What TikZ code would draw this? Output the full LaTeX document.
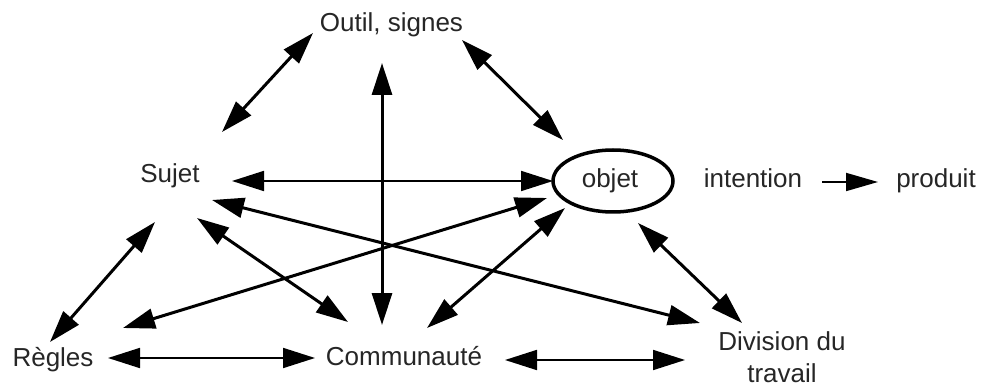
\documentclass[tikz,border=0pt]{standalone}
\usepackage{fontspec}
\setmainfont{Liberation Sans}
\usetikzlibrary{arrows.meta,shapes.geometric}
\begin{document}
\begin{tikzpicture}[x=1pt,y=-1pt,
  lbl/.style={anchor=base,inner sep=0pt,font=\fontsize{26}{30}\selectfont,text=black!85},
  link/.style={line width=3pt,{Triangle[length=32pt,width=20pt]}-{Triangle[length=32pt,width=20pt]}},
  thinlink/.style={line width=1.8pt,{Triangle[length=32pt,width=20pt]}-{Triangle[length=32pt,width=20pt]}},
  oneway/.style={line width=1.8pt,-{Triangle[length=32pt,width=18pt]}}]
\useasboundingbox (0,0) rectangle (982,387);
\fill[white] (0,0) rectangle (982,387);
% labels
\node[lbl] (outil) at (391.5,32) {Outil, signes};
\node[lbl] (sujet) at (170,183) {Sujet};
\node[draw,ellipse,line width=3.5pt,minimum width=120pt,minimum height=62pt,inner sep=0pt] (objring) at (613,181) {};
\node[lbl] (objet) at (610,188) {objet};
\node[lbl] (intention) at (753,188) {intention};
\node[lbl] (produit) at (936,188) {produit};
\node[lbl] (regles) at (53,366) {Règles};
\node[lbl] (commu) at (404,365) {Communauté};
\node[lbl] (divi) at (782,350) {Division du};
\node[lbl] (trav) at (782,382) {travail};
% arrow ends
\coordinate (os1) at (313,33);  \coordinate (os2) at (222,132);
\coordinate (oc1) at (382,63);  \coordinate (oc2) at (382,325);
\coordinate (oo1) at (462,40);  \coordinate (oo2) at (563,140);
\coordinate (so1) at (232,181); \coordinate (so2) at (553,181);
\coordinate (sd1) at (212,200); \coordinate (sd2) at (700,323);
\coordinate (sc1) at (197,218); \coordinate (sc2) at (348,322);
\coordinate (rs1) at (155,222); \coordinate (rs2) at (50,342);
\coordinate (or1) at (547,198); \coordinate (or2) at (123,328);
\coordinate (co1) at (565,208); \coordinate (co2) at (427,328);
\coordinate (od1) at (638,223); \coordinate (od2) at (742,323);
\coordinate (rc1) at (108,358); \coordinate (rc2) at (315,358);
\coordinate (cd1) at (505,360); \coordinate (cd2) at (685,360);
\coordinate (ip1) at (822,182); \coordinate (ip2) at (878,182);
% connectors
\draw[link] (os1) -- (os2);
\draw[link] (oc1) -- (oc2);
\draw[link] (oo1) -- (oo2);
\draw[thinlink] (so1) -- (so2);
\draw[link] (sd1) -- (sd2);
\draw[link] (sc1) -- (sc2);
\draw[link] (rs1) -- (rs2);
\draw[link] (or1) -- (or2);
\draw[link] (co1) -- (co2);
\draw[link] (od1) -- (od2);
\draw[thinlink] (rc1) -- (rc2);
\draw[thinlink] (cd1) -- (cd2);
\draw[oneway] (ip1) -- (ip2);
\end{tikzpicture}
\end{document}
